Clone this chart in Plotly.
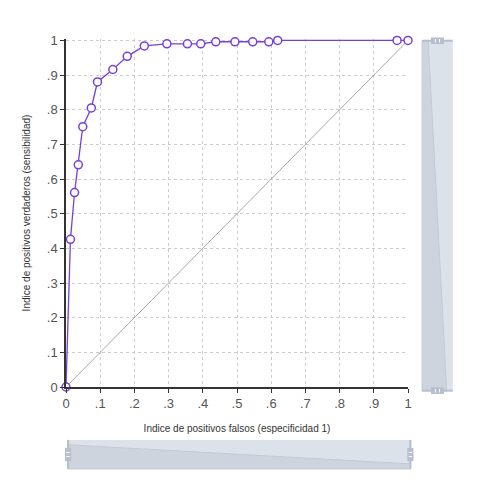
import plotly.graph_objects as go

fpr = [0.0, 0.013, 0.025, 0.036, 0.049, 0.074, 0.092, 0.137, 0.179, 0.229,
       0.295, 0.355, 0.394, 0.438, 0.494, 0.546, 0.593, 0.619, 0.968, 1.0]
tpr = [0.0, 0.426, 0.561, 0.641, 0.751, 0.805, 0.880, 0.916, 0.954, 0.984,
       0.990, 0.990, 0.990, 0.996, 0.996, 0.996, 0.996, 1.0, 1.0, 1.0]
diag_x = [0, 1]
diag_y = [0, 1]
tick_vals = [0, 0.1, 0.2, 0.3, 0.4, 0.5, 0.6, 0.7, 0.8, 0.9, 1]
tick_text = ["0", ".1", ".2", ".3", ".4", ".5", ".6", ".7", ".8", ".9", "1"]

fig = go.Figure()
fig.add_trace(go.Scatter(x=diag_x, y=diag_y, mode="lines",
                         line=dict(color="#a8a8a8", width=1), hoverinfo="skip"))
fig.add_trace(go.Scatter(x=fpr, y=tpr, mode="lines+markers",
                         line=dict(color="#7a3fd6", width=1.3),
                         marker=dict(size=8, color="white",
                                     line=dict(color="#7a3fd6", width=1.5)),
                         cliponaxis=False))

axis_common = dict(tickvals=tick_vals, ticktext=tick_text,
                   showgrid=True, gridcolor="#cccccc", griddash="dot", gridwidth=1,
                   showline=True, linecolor="#333333", linewidth=1.5,
                   ticks="outside", ticklen=4, tickcolor="#333333",
                   tickfont=dict(family="Liberation Sans, Arial", size=13, color="#555555"),
                   zeroline=False, fixedrange=True, automargin=False)

fig.update_xaxes(**axis_common, range=[0, 1],
                 title=dict(text="Indice de positivos falsos (especificidad 1)",
                            font=dict(family="Liberation Sans, Arial", size=10, color="#333333"),
                            standoff=15))
fig.update_yaxes(**axis_common, range=[0, 1.004],
                 title=dict(text="Indice de positivos verdaderos (sensibilidad)",
                            font=dict(family="Liberation Sans, Arial", size=10, color="#333333"),
                            standoff=14))

# scrollbar decorations (paper coords)
bg = "#dce2ea"
dark = "#cdd4de"
border = "#b3bfcf"
shapes = []
# bottom scrollbar
bx0, bx1, by0, by1 = 0.006, 1.007, -0.2356, -0.152
shapes.append(dict(type="rect", xref="paper", yref="paper", x0=bx0, x1=bx1, y0=by0, y1=by1,
                   fillcolor=bg, line=dict(width=0), layer="above"))
shapes.append(dict(type="path", xref="paper", yref="paper",
                   path=f"M {bx0} {by0} L {bx0} -0.166 L {bx1} -0.221 L {bx1} {by0} Z",
                   fillcolor=dark, line=dict(color="#c3cbd6", width=1), layer="above"))
shapes.append(dict(type="line", xref="paper", yref="paper", x0=bx0, x1=bx0, y0=by0, y1=by1,
                   line=dict(color=border, width=2), layer="above"))
shapes.append(dict(type="line", xref="paper", yref="paper", x0=bx1, x1=bx1, y0=by0, y1=by1,
                   line=dict(color=border, width=2), layer="above"))
for gx in (bx0, bx1):
    shapes.append(dict(type="rect", xref="paper", yref="paper", x0=gx - 0.009, x1=gx + 0.009,
                       y0=-0.213, y1=-0.175, fillcolor="#b4bfcf", line=dict(width=0), layer="above"))
    for gy in (-0.188, -0.200):
        shapes.append(dict(type="line", xref="paper", yref="paper", x0=gx - 0.005, x1=gx + 0.005,
                           y0=gy, y1=gy, line=dict(color="white", width=1), layer="above"))
# right scrollbar
rx0, rx1, ry0, ry1 = 1.041, 1.131, -0.0106, 0.995
shapes.append(dict(type="rect", xref="paper", yref="paper", x0=rx0, x1=rx1, y0=ry0, y1=ry1,
                   fillcolor=bg, line=dict(width=0), layer="above"))
shapes.append(dict(type="path", xref="paper", yref="paper",
                   path=f"M {rx0} {ry1} L 1.059 {ry1} L 1.113 {ry0} L {rx0} {ry0} Z",
                   fillcolor=dark, line=dict(color="#c3cbd6", width=1), layer="above"))
for gy in (ry0, ry1):
    shapes.append(dict(type="line", xref="paper", yref="paper", x0=rx0, x1=rx1, y0=gy, y1=gy,
                       line=dict(color=border, width=2), layer="above"))
    shapes.append(dict(type="rect", xref="paper", yref="paper", x0=1.067, x1=1.105,
                       y0=gy - 0.0095, y1=gy + 0.0095, fillcolor="#b4bfcf", line=dict(width=0), layer="above"))
    for gx in (1.080, 1.092):
        shapes.append(dict(type="line", xref="paper", yref="paper", x0=gx, x1=gx,
                           y0=gy - 0.005, y1=gy + 0.005, line=dict(color="white", width=1), layer="above"))

fig.update_layout(width=480, height=480, showlegend=False,
                  margin=dict(l=58, r=80, t=31, b=101),
                  plot_bgcolor="white", paper_bgcolor="white",
                  shapes=shapes, hovermode=False)

fig.write_html("out.html", config={"displayModeBar": False})
